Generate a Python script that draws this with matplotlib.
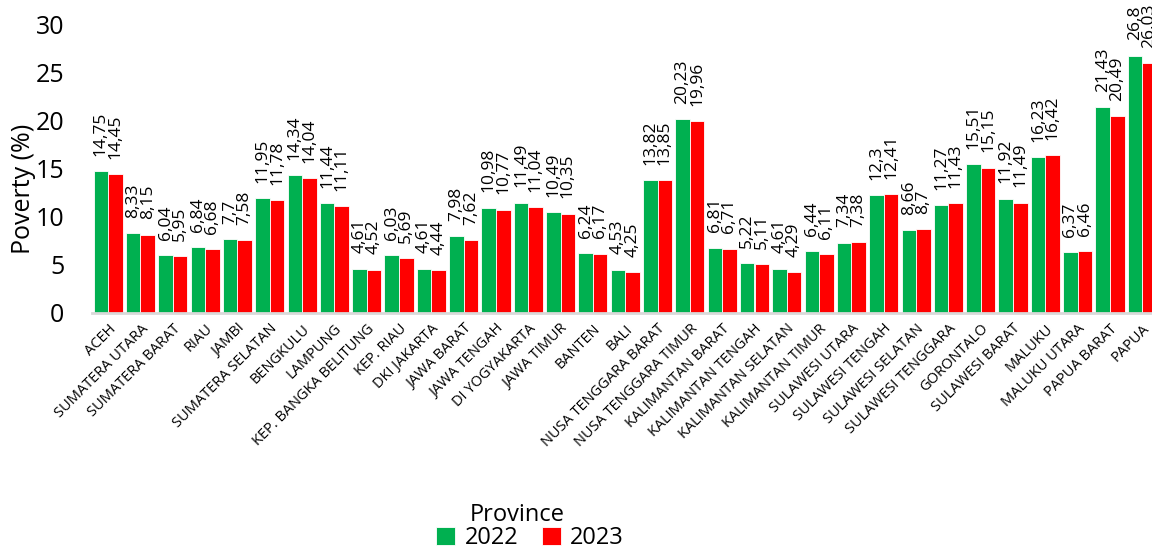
import matplotlib
matplotlib.use("Agg")
import matplotlib.pyplot as plt
import numpy as np

provinces = ["ACEH", "SUMATERA UTARA", "SUMATERA BARAT", "RIAU", "JAMBI",
             "SUMATERA SELATAN", "BENGKULU", "LAMPUNG", "KEP. BANGKA BELITUNG",
             "KEP. RIAU", "DKI JAKARTA", "JAWA BARAT", "JAWA TENGAH",
             "DI YOGYAKARTA", "JAWA TIMUR", "BANTEN", "BALI",
             "NUSA TENGGARA BARAT", "NUSA TENGGARA TIMUR", "KALIMANTAN BARAT",
             "KALIMANTAN TENGAH", "KALIMANTAN SELATAN", "KALIMANTAN TIMUR",
             "SULAWESI UTARA", "SULAWESI TENGAH", "SULAWESI SELATAN",
             "SULAWESI TENGGARA", "GORONTALO", "SULAWESI BARAT", "MALUKU",
             "MALUKU UTARA", "PAPUA BARAT", "PAPUA"]
pov_2022 = [14.75, 8.33, 6.04, 6.84, 7.7, 11.95, 14.34, 11.44, 4.61, 6.03, 4.61,
            7.98, 10.98, 11.49, 10.49, 6.24, 4.53, 13.82, 20.23, 6.81, 5.22, 4.61,
            6.44, 7.34, 12.3, 8.66, 11.27, 15.51, 11.92, 16.23, 6.37, 21.43, 26.8]
pov_2023 = [14.45, 8.15, 5.95, 6.68, 7.58, 11.78, 14.04, 11.11, 4.52, 5.69, 4.44,
            7.62, 10.77, 11.04, 10.35, 6.17, 4.25, 13.85, 19.96, 6.71, 5.11, 4.29,
            6.11, 7.38, 12.41, 8.7, 11.43, 15.15, 11.49, 16.42, 6.46, 20.49, 26.03]
series_names = ["2022", "2023"]
yticks = [0, 5, 10, 15, 20, 25, 30]

plt.rcParams['font.family'] = ['Open Sans', 'DejaVu Sans']

fig = plt.figure(figsize=(11.52, 5.52), dpi=100)
ax = fig.add_axes([92/1152, 239/552, 1.0 - 92/1152, 288/552])

x = np.arange(len(provinces))
w = 0.45
colors = ["#00B050", "#FF0000"]
b1 = ax.bar(x - w/2, pov_2022, width=w, color=colors[0], edgecolor="white",
            linewidth=0.6, label=series_names[0])
b2 = ax.bar(x + w/2, pov_2023, width=w, color=colors[1], edgecolor="white",
            linewidth=0.6, label=series_names[1])

def fmt(v):
    return ("%g" % v).replace(".", ",")

for bars, vals in ((b1, pov_2022), (b2, pov_2023)):
    for rect, v in zip(bars, vals):
        ax.annotate(fmt(v), (rect.get_x() + rect.get_width()/2, v),
                    xytext=(0, 11), textcoords="offset points",
                    rotation=90, ha="center", va="bottom", fontsize=12.5,
                    annotation_clip=False)

ax.set_xlim(-0.5, 32.3)
ax.set_ylim(0, 30)
ax.set_yticks(yticks)
ax.set_yticklabels([str(t) for t in yticks], fontsize=18)
ax.tick_params(axis="y", length=0, pad=20)
ax.set_xticks(x)
ax.set_xticklabels(provinces, rotation=45, ha="right", rotation_mode="anchor",
                   fontsize=10.5)
ax.tick_params(axis="x", length=0, pad=6)

for s in ["top", "right", "left"]:
    ax.spines[s].set_visible(False)
ax.spines["bottom"].set_color("#D9D9D9")
ax.spines["bottom"].set_linewidth(2)

ax.set_ylabel("Poverty (%)", fontsize=18)
ax.yaxis.set_label_coords(-0.053, 0.43)

fig.text(517/1152, 1 - 515/552, "Province", ha="center", va="center", fontsize=17)
leg = fig.legend(handles=[b1, b2], labels=series_names, loc="center",
                 bbox_to_anchor=(530/1152, 1 - 538/552), ncol=2, frameon=False,
                 fontsize=17, handlelength=0.8, handleheight=0.8,
                 handletextpad=0.4, columnspacing=1.0, borderpad=0)

fig.savefig("out.png", dpi=100)
